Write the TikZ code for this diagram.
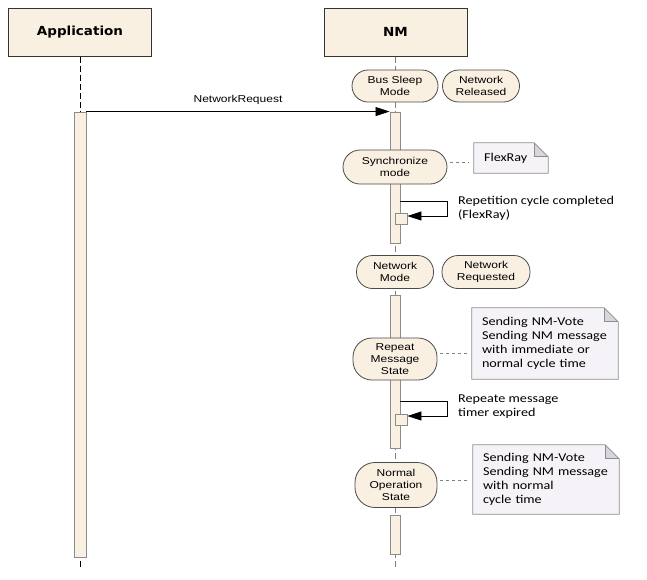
\documentclass[tikz,border=0pt]{standalone}
\usepackage{fontspec}
\setmainfont{Liberation Sans}
\newfontfamily\headfont[FakeStretch=1.08]{DejaVu Sans}
\newfontfamily\ellfont[FakeStretch=1.2]{Liberation Sans}
\newfontfamily\notefont[FakeStretch=1.18]{Carlito}
\usetikzlibrary{arrows.meta,calc}
\definecolor{cream}{HTML}{FAF0E2}
\definecolor{notefill}{HTML}{F5F3F7}
\definecolor{foldgray}{HTML}{D8D6DC}
\definecolor{edgegray}{HTML}{4A4A4A}
\definecolor{bargray}{HTML}{8C8C8C}
\tikzset{
  head/.style={draw=black!80, line width=1pt, fill=cream, minimum width=143pt, minimum height=48pt, inner sep=0pt,
    font=\headfont\bfseries\fontsize{12.5}{15}\selectfont},
  statebox/.style={draw=edgegray, line width=0.8pt, fill=cream, rounded corners=16pt, inner sep=0pt, align=center,
    font=\ellfont\fontsize{10}{12}\selectfont},
  actbar/.style={draw=bargray, line width=0.9pt, fill=cream, minimum width=10pt, inner sep=0pt},
  execbox/.style={draw=bargray, line width=0.8pt, fill=cream, minimum width=12pt, minimum height=11pt, inner sep=0pt},
  notebox/.style={fill=notefill, inner xsep=10pt, inner ysep=0pt, align=left,
    font=\notefont\fontsize{12}{14}\selectfont},
  lbl/.style={inner sep=0pt, align=left, font=\notefont\fontsize{12}{14}\selectfont},
  msg/.style={draw=black, line width=0.8pt, -{Triangle[length=14pt,width=9pt]}},
  appline/.style={draw=black, line width=0.8pt, dash pattern=on 6pt off 3pt},
  nmline/.style={draw=gray, line width=0.8pt, dash pattern=on 6pt off 3pt},
  anchorline/.style={draw=gray, line width=0.7pt, dash pattern=on 3pt off 3pt, shorten <=3pt, shorten >=5pt}
}
\newcommand\dogear[1]{%
  \fill[white] (#1.north east) -- ($(#1.north east)+(-14,0)$) -- ($(#1.north east)+(0,14)$) -- cycle;
  \fill[foldgray] ($(#1.north east)+(-14,0)$) -- ($(#1.north east)+(-14,14)$) -- ($(#1.north east)+(0,14)$) -- cycle;
  \draw[bargray, line width=0.8pt] (#1.north west) -- ($(#1.north east)+(-14,0)$) -- ($(#1.north east)+(0,14)$)
     -- (#1.south east) -- (#1.south west) -- cycle;
  \draw[bargray, line width=0.8pt] ($(#1.north east)+(-14,0)$) -- ($(#1.north east)+(-14,14)$) -- ($(#1.north east)+(0,14)$);
}
\begin{document}
\begin{tikzpicture}[x=1pt,y=-1pt]
\useasboundingbox (0,0) rectangle (647,579);

% headers
\node[head] (app) at (80,32) {Application};
\node[head] (nm) at (395.5,32) {NM};

% lifelines
\coordinate (append) at (80,567);
\coordinate (nmend) at (395,567);
\draw[appline] (app.south) -- (append);
\draw[nmline] (nm.south -| nmend) -- (nmend);

% activation bars
\node[actbar, minimum width=12pt, minimum height=445pt] (appbar) at (80,334.5) {};
\node[actbar, minimum height=131pt] (nmbar1) at (395,177.5) {};
\node[actbar, minimum height=153pt] (nmbar2) at (395,371.5) {};
\node[actbar, minimum height=39pt] (nmbar3) at (395,534.5) {};

% states
\node[statebox, minimum width=86pt, minimum height=32pt] (bus) at (395,86) {Bus Sleep\\Mode};
\node[statebox, minimum width=77pt, minimum height=32pt] (netrel) at (481,86) {Network\\Released};
\node[statebox, minimum width=104pt, minimum height=34pt, rounded corners=17pt] (sync) at (395,167) {Synchronize\\mode};
\node[statebox, minimum width=77pt, minimum height=33pt] (netmode) at (395,272) {Network\\Mode};
\node[statebox, minimum width=88pt, minimum height=33pt] (netreq) at (486,272) {Network\\Requested};
\node[statebox, minimum width=84pt, minimum height=42pt, rounded corners=19pt] (repeat) at (395,359) {Repeat\\Message\\State};
\node[statebox, minimum width=82pt, minimum height=45pt, rounded corners=20pt] (normal) at (396,485) {Normal\\Operation\\State};

% message
\draw[msg] (appbar.north east) -- (nmbar1.north west)
  node[midway, above=3pt, font=\ellfont\fontsize{10}{12}\selectfont] (reqlbl) {NetworkRequest};

% self messages
\node[execbox] (exec1) at (401,218.5) {};
\coordinate (s1) at (400,201);
\coordinate (c1) at (447,216);
\draw[msg] (s1) -| (c1) -- (c1 -| exec1.east);
\node[lbl, anchor=north west] (lab1) at (458,196) {Repetition cycle completed\\(FlexRay)};

\node[execbox] (exec2) at (401,420) {};
\coordinate (s2) at (400,401);
\coordinate (c2) at (447,416);
\draw[msg] (s2) -| (c2) -- (c2 -| exec2.east);
\node[lbl, anchor=north west] (lab2) at (458,395) {Repeate message\\timer expired};

% notes
\node[notebox, text width=54pt, minimum height=30pt] (note1) at (511,158) {FlexRay};
\dogear{note1}
\node[notebox, text width=126pt, minimum height=71pt] (note2) at (545,343.5) {Sending NM-Vote\\Sending NM message\\with immediate or\\normal cycle time};
\dogear{note2}
\node[notebox, text width=126pt, minimum height=69pt] (note3) at (546,479.5) {Sending NM-Vote\\Sending NM message\\with normal\\cycle time};
\dogear{note3}

% note anchors
\draw[anchorline] (sync.east |- 0,162) -- (note1.west |- 0,162);
\draw[anchorline] (repeat.east |- 0,353) -- (note2.west |- 0,353);
\draw[anchorline] (normal.east |- 0,480) -- (note3.west |- 0,480);
\end{tikzpicture}
\end{document}
